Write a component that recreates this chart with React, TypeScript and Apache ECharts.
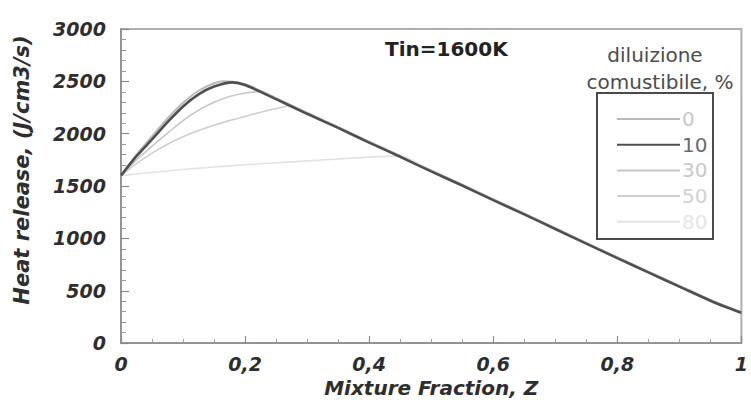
import React, { useEffect, useRef } from "react";
import * as echarts from "echarts";

// Mixture fraction Z and heat release (J/cm3/s) for each fuel dilution (%)
const z0 = [0, 0.025, 0.05, 0.075, 0.1, 0.125, 0.15, 0.165, 0.2, 0.25, 0.3, 0.35, 0.4, 0.45, 0.5, 0.55, 0.6, 0.65, 0.7, 0.75, 0.8, 0.85, 0.9, 0.95, 0.975, 1];
const v0 = [1600, 1800, 1975, 2145, 2295, 2410, 2482, 2502, 2472, 2340, 2200, 2064, 1924, 1789, 1649, 1514, 1374, 1238, 1098, 958, 820, 683, 548, 413, 352, 296];

const z10 = [0, 0.025, 0.05, 0.075, 0.1, 0.125, 0.15, 0.18, 0.2, 0.25, 0.3, 0.35, 0.4, 0.45, 0.5, 0.55, 0.6, 0.65, 0.7, 0.75, 0.8, 0.85, 0.9, 0.95, 0.975, 1];
const v10 = [1600, 1785, 1945, 2110, 2260, 2375, 2450, 2490, 2465, 2330, 2190, 2055, 1915, 1780, 1640, 1505, 1365, 1230, 1090, 950, 812, 675, 540, 405, 345, 290];

const z30 = [0, 0.025, 0.05, 0.075, 0.1, 0.125, 0.15, 0.175, 0.2, 0.22, 0.25, 0.3, 0.35, 0.4, 0.45, 0.5, 0.55, 0.6, 0.65, 0.7, 0.75, 0.8, 0.85, 0.9, 0.95, 0.975, 1];
const v30 = [1600, 1750, 1880, 2005, 2125, 2225, 2300, 2355, 2388, 2400, 2337, 2197, 2062, 1921, 1786, 1646, 1511, 1371, 1236, 1096, 956, 818, 681, 546, 411, 350, 294];

const z50 = [0, 0.025, 0.05, 0.075, 0.1, 0.125, 0.15, 0.175, 0.2, 0.225, 0.25, 0.27, 0.3, 0.35, 0.4, 0.45, 0.5, 0.55, 0.6, 0.65, 0.7, 0.75, 0.8, 0.85, 0.9, 0.95, 0.975, 1];
const v50 = [1600, 1715, 1815, 1900, 1970, 2030, 2080, 2125, 2165, 2205, 2240, 2265, 2195, 2060, 1919, 1784, 1644, 1509, 1369, 1234, 1094, 954, 816, 679, 544, 409, 348, 293];

const z80 = [0, 0.05, 0.1, 0.15, 0.2, 0.25, 0.3, 0.35, 0.4, 0.45, 0.5, 0.55, 0.6, 0.65, 0.7, 0.75, 0.8, 0.85, 0.9, 0.95, 0.975, 1];
const v80 = [1600, 1630, 1658, 1682, 1703, 1722, 1740, 1758, 1776, 1786, 1642, 1507, 1367, 1232, 1092, 952, 814, 677, 542, 407, 347, 292];

const dilutionNames = ["0", "10", "30", "50", "80"];
const xTickLabels = ["0", "0,2", "0,4", "0,6", "0,8", "1"];
const yTickLabels = ["0", "500", "1000", "1500", "2000", "2500", "3000"];

const pair = (zs: number[], vs: number[]) => zs.map((z, i) => [z, vs[i]]);

export default function App() {
  const ref = useRef<HTMLDivElement>(null);
  useEffect(() => {
    if (!ref.current) return;
    const chart = echarts.init(ref.current, null, { renderer: "svg" });
    const labelFont = {
      fontFamily: "DejaVu Sans",
      fontWeight: "bold" as const,
      fontStyle: "italic" as const,
      fontSize: 19,
      color: "#2e2e2e",
    };
    const lineColors = ["#b9b9b9", "#4f4f4f", "#c6c6c6", "#cfcfcf", "#e3e3e3"];
    const lineWidths = [2, 2.6, 1.6, 1.6, 1.6];
    const textColors = ["#c8c8c8", "#6a6a6a", "#c8c8c8", "#d2d2d2", "#e6e6e6"];
    const datasets = [pair(z0, v0), pair(z10, v10), pair(z30, v30), pair(z50, v50), pair(z80, v80)];

    chart.setOption({
      animation: false,
      backgroundColor: "#ffffff",
      grid: {
        left: 121,
        right: 4,
        top: 29,
        bottom: 55,
        show: true,
        borderColor: "#b0b0b0",
        borderWidth: 2,
        backgroundColor: "transparent",
      },
      xAxis: {
        type: "value",
        min: 0,
        max: 1,
        interval: 0.2,
        name: "Mixture Fraction, Z",
        nameLocation: "middle",
        nameGap: 43,
        nameTextStyle: { ...labelFont, fontSize: 20, verticalAlign: "middle" },
        axisLine: { lineStyle: { color: "#8a8a8a", width: 1.5 } },
        axisTick: { inside: true, length: 7, lineStyle: { color: "#8a8a8a", width: 1.2 } },
        minorTick: { show: true, splitNumber: 4, length: 4, lineStyle: { color: "#9a9a9a", width: 1 } },
        splitLine: { show: false },
        axisLabel: {
          ...labelFont,
          margin: 11,
          formatter: (v: number) => xTickLabels[Math.round(v / 0.2)] ?? String(v),
        },
      },
      yAxis: {
        type: "value",
        min: 0,
        max: 3000,
        interval: 500,
        axisLine: { show: true, lineStyle: { color: "#8a8a8a", width: 1.5 } },
        axisTick: { show: true, inside: true, length: 8, lineStyle: { color: "#8a8a8a", width: 1.2 } },
        minorTick: { show: true, splitNumber: 5, length: 5, lineStyle: { color: "#9a9a9a", width: 1 } },
        splitLine: { show: false },
        axisLabel: {
          ...labelFont,
          margin: 15,
          padding: [0, 0, 11, 0],
          formatter: (v: number) => yTickLabels[Math.round(v / 500)] ?? String(v),
        },
      },
      legend: {
        orient: "vertical",
        left: 612,
        top: 104,
        itemWidth: 63,
        itemHeight: 20,
        itemGap: 5.7,
        icon: "path://M0,9 L63,9 L63,11 L0,11 Z",
        textStyle: { fontFamily: "DejaVu Sans", fontSize: 20, padding: [0, 0, 0, -3] },
        data: dilutionNames.map((n, i) => ({
          name: n,
          itemStyle: { color: lineColors[i] },
          textStyle: { color: textColors[i] },
        })),
      },
      graphic: [
        {
          type: "rect",
          shape: { x: 597, y: 93, width: 116, height: 146 },
          style: { fill: "none", stroke: "#4a4a4a", lineWidth: 2 },
          z: 10,
        },
        {
          type: "text",
          x: 655,
          y: 55,
          style: {
            text: "diluizione",
            font: "20px 'DejaVu Sans'",
            fill: "#4c4c4c",
            textAlign: "center",
            textVerticalAlign: "middle",
          },
        },
        {
          type: "text",
          x: 660,
          y: 82,
          style: {
            text: "comustibile, %",
            font: "20px 'DejaVu Sans'",
            fill: "#4c4c4c",
            textAlign: "center",
            textVerticalAlign: "middle",
          },
        },
        {
          type: "text",
          x: 385,
          y: 49,
          style: {
            text: "Tin=1600K",
            font: "bold 20px 'DejaVu Sans'",
            fill: "#222222",
            textAlign: "left",
            textVerticalAlign: "middle",
          },
        },
        {
          type: "text",
          x: 22,
          y: 170,
          rotation: Math.PI / 2,
          style: {
            text: "Heat release, (J/cm3/s)",
            font: "italic bold 21px 'DejaVu Sans'",
            fill: "#2e2e2e",
            textAlign: "center",
            textVerticalAlign: "middle",
          },
        },
      ],
      series: dilutionNames.map((n, i) => ({
        name: n,
        type: "line",
        data: datasets[i],
        symbol: "none",
        smooth: 0.3,
        z: i === 1 ? 5 : 2,
        lineStyle: { color: lineColors[i], width: lineWidths[i] },
        itemStyle: { color: lineColors[i] },
      })),
    });
    return () => chart.dispose();
  }, []);
  return <div ref={ref} style={{ position: "absolute", left: 0, top: 0, width: 751, height: 403 }} />;
}
